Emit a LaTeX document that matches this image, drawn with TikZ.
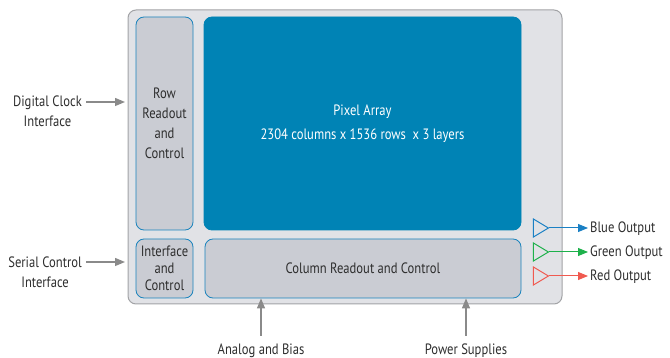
\documentclass[tikz,border=0pt]{standalone}
\usepackage{fontspec}
\setmainfont[FakeStretch=0.84]{PT Sans}
\usetikzlibrary{arrows.meta,shapes.geometric}
\definecolor{chipfill}{HTML}{E1E2E6}
\definecolor{chipline}{HTML}{A2A3A6}
\definecolor{blkfill}{HTML}{CACCD3}
\definecolor{blkline}{HTML}{1A83BD}
\definecolor{pixfill}{HTML}{0083B5}
\definecolor{txt}{HTML}{2E2E2E}
\definecolor{arrgray}{HTML}{8A8A8A}
\definecolor{bluout}{HTML}{1A80C4}
\definecolor{grnout}{HTML}{1DB14B}
\definecolor{redout}{HTML}{F05A50}

\begin{document}
\begin{tikzpicture}[x=1pt, y=-1pt, font=\fontsize{15}{20}\selectfont, text=txt,
    chip/.style={draw=chipline, fill=chipfill, line width=1pt, rounded corners=8pt},
    blk/.style={draw=blkline, fill=blkfill, line width=.8pt, rounded corners=8pt, align=center, inner sep=0pt},
    arr/.style={draw=arrgray, line width=1.2pt, -{Triangle[length=10pt, width=8pt]}},
    amp/.style={isosceles triangle, isosceles triangle apex angle=62, draw=#1, line width=1pt,
        minimum height=15pt, inner sep=0pt, fill=chipfill},
    outarr/.style={draw=#1, line width=1pt, -{Triangle[length=10pt, width=8pt]}},
    lbl/.style={align=center, inner sep=2pt}]
    \useasboundingbox (0,0) rectangle (670,358);
    % chip outline and blocks
    \node[chip, minimum width=434pt, minimum height=294pt] (chip) at (345,157) {};
    \node[blk, minimum width=57pt, minimum height=213pt] (row) at (164.5,123.5) {Row\\Readout\\and\\Control};
    \node[blk, draw=pixfill, fill=pixfill, text=white, minimum width=317pt, minimum height=213pt,
        font=\fontsize{15}{24}\selectfont] (pix) at (362.5,123.5) {Pixel Array\\2304 columns x 1536 rows\ \ x 3 layers};
    \node[blk, minimum width=57pt, minimum height=59pt, font=\fontsize{15}{17}\selectfont] (ifc) at (164.5,268.5) {Interface\\and\\Control};
    \node[blk, minimum width=316pt, minimum height=59pt] (col) at (363,268.5) {Column Readout and Control};
    % inputs
    \node[lbl, anchor=north east] (clk) at (84,94) {Digital Clock\\Interface};
    \node[lbl, anchor=north east] (ser) at (84,255) {Serial Control\\Interface};
    \coordinate (clkin) at (125,102);
    \coordinate (serin) at (125,262);
    \draw[arr] ([xshift=2pt]clk.east |- clkin) -- (clkin);
    \draw[arr] ([xshift=2pt]ser.east |- serin) -- (serin);
    \node[lbl] (ana) at (261,351) {Analog and Bias};
    \node[lbl] (pwr) at (466,351) {Power Supplies};
    \draw[arr] ([yshift=6pt]ana.north) -- (ana.north |- col.south);
    \draw[arr] ([yshift=6pt]pwr.north) -- (pwr.north |- col.south);
    % outputs
    \node[amp=bluout] (bamp) at (538.5,228) {};
    \node[amp=grnout] (gamp) at (538.5,252) {};
    \node[amp=redout] (ramp) at (538.5,276) {};
    \node[lbl, anchor=west] (bout) at (588,229) {Blue Output};
    \node[lbl, anchor=west] (gout) at (588,253) {Green Output};
    \node[lbl, anchor=west] (rout) at (588,277) {Red Output};
    \draw[outarr=bluout] (bamp.apex) -- (bout.west |- bamp.apex);
    \draw[outarr=grnout] (gamp.apex) -- (gout.west |- gamp.apex);
    \draw[outarr=redout] (ramp.apex) -- (rout.west |- ramp.apex);
\end{tikzpicture}
\end{document}
